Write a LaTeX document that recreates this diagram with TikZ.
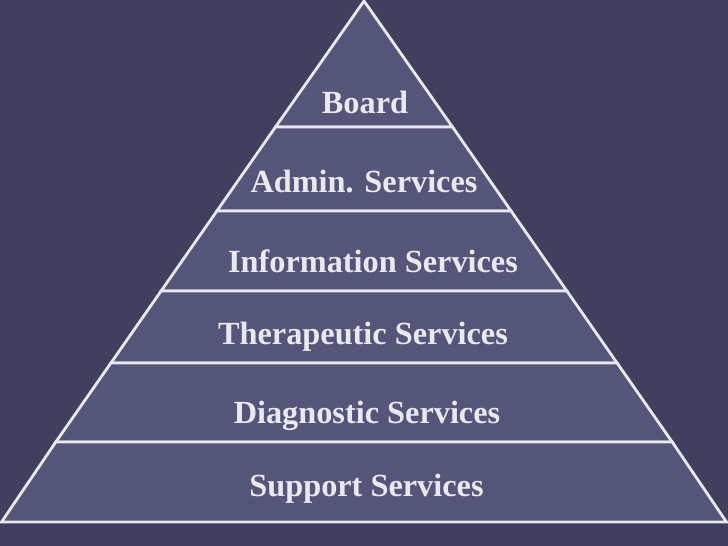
\documentclass[tikz,border=0pt]{standalone}
\usepackage{fontspec}
\setmainfont{Liberation Serif}
\definecolor{bgcol}{RGB}{64,64,94}
\definecolor{tiercol}{RGB}{85,85,122}
\definecolor{txtcol}{RGB}{232,232,240}
\begin{document}
\begin{tikzpicture}[x=1pt,y=-1pt,
  tier/.style={fill=tiercol,draw=txtcol,line width=2.8pt,line join=miter},
  lbl/.style={text=txtcol,font=\fontsize{32.3}{36}\selectfont\bfseries,anchor=base,inner sep=0pt}]
\fill[bgcol] (0,0) rectangle (728,546);
\useasboundingbox (0,0) rectangle (728,546);
% tier boundaries: half-width = 364*y/522, apex at (364,0)
\coordinate (apex) at (364,1);
\coordinate (l1) at (275.5,127); \coordinate (r1) at (452.5,127);
\coordinate (l2) at (216.9,211); \coordinate (r2) at (511.1,211);
\coordinate (l3) at (161.1,291); \coordinate (r3) at (566.9,291);
\coordinate (l4) at (110.9,363); \coordinate (r4) at (617.1,363);
\coordinate (l5) at (55.8,442);  \coordinate (r5) at (672.2,442);
\coordinate (l6) at (1.5,522);   \coordinate (r6) at (726.5,522);
\draw[tier] (apex) -- (r1) -- (l1) -- cycle;
\draw[tier] (l1) -- (r1) -- (r2) -- (l2) -- cycle;
\draw[tier] (l2) -- (r2) -- (r3) -- (l3) -- cycle;
\draw[tier] (l3) -- (r3) -- (r4) -- (l4) -- cycle;
\draw[tier] (l4) -- (r4) -- (r5) -- (l5) -- cycle;
\draw[tier] (l5) -- (r5) -- (r6) -- (l6) -- cycle;
\node[lbl] (board) at (365,113) {Board};
\node[lbl] (admin) at (364,192.5) {Admin. Services};
\node[lbl] (info) at (373,272.5) {Information Services};
\node[lbl] (thera) at (363,344) {Therapeutic Services};
\node[lbl] (diag) at (367,423) {Diagnostic Services};
\node[lbl] (supp) at (366.5,496.5) {Support Services};
\end{tikzpicture}
\end{document}
